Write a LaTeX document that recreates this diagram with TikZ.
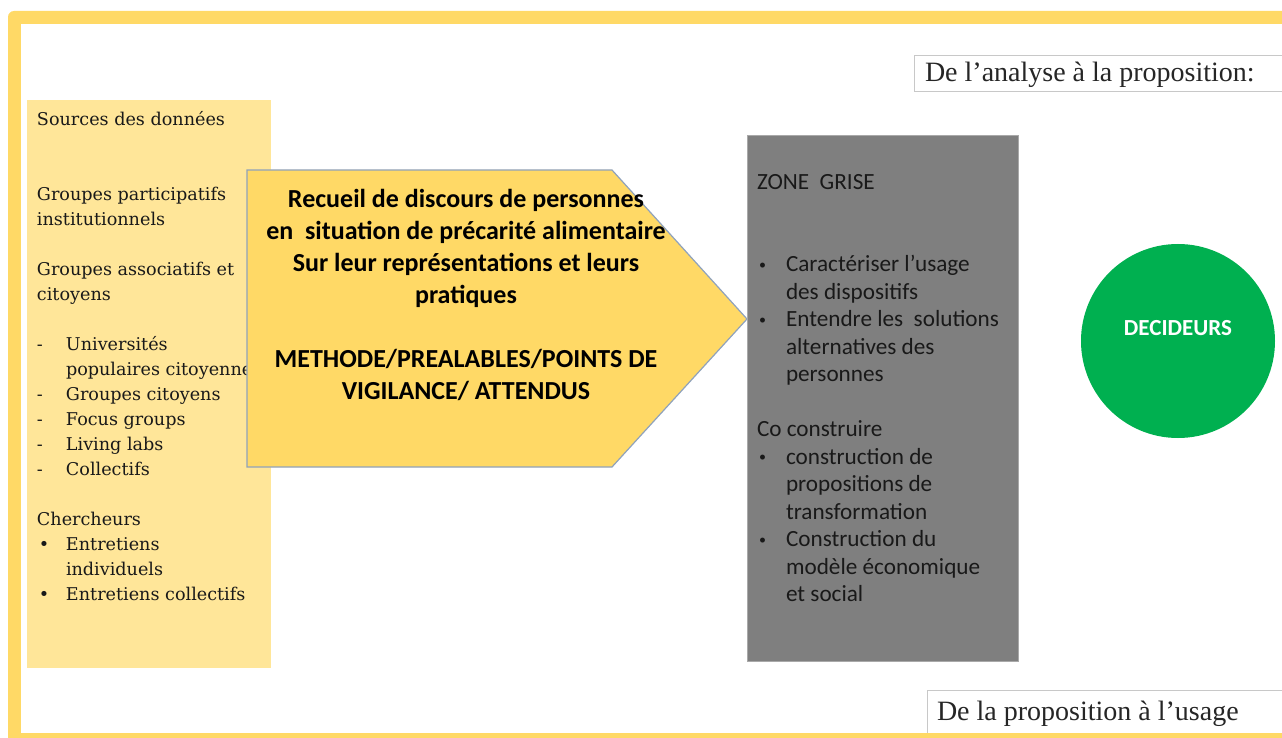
\documentclass[tikz,border=0pt]{standalone}
\usepackage{fontspec}
\setmainfont{Liberation Serif}
\newfontfamily\srcfont{DejaVu Serif}
\newfontfamily\zonefont{Carlito}
\usetikzlibrary{positioning}

\definecolor{frameyellow}{HTML}{FFD966}
\definecolor{srcyellow}{HTML}{FFE699}
\definecolor{arrowyellow}{HTML}{FFD966}
\definecolor{arrowedge}{HTML}{8FA2BC}
\definecolor{zonegray}{HTML}{7F7F7F}
\definecolor{zoneedge}{HTML}{A9A9A9}
\definecolor{decgreen}{HTML}{00B050}
\definecolor{tagedge}{HTML}{C8C8C8}

\newcommand{\itemdash}{\makebox[14.5pt][l]{-}}
\newcommand{\itemdot}{\makebox[14.5pt][l]{\hspace{1pt}•}}
\newcommand{\zonedot}{\makebox[14.5pt][l]{\hspace{1pt}\raisebox{1.2pt}{\fontsize{7}{7}\selectfont •}}}
\newcommand{\itemhang}{\hspace*{14.5pt}}

\begin{document}
\begin{tikzpicture}[x=0.5pt, y=-0.5pt,
	every node/.style={inner sep=0pt, outer sep=0pt},
	tagbox/.style={draw=tagedge, fill=white, anchor=north west, minimum width=190pt},
	tagtext/.style={font=\fontsize{14}{16}\selectfont, text=black!85},
	srcbox/.style={fill=srcyellow, anchor=north west, minimum width=122pt, minimum height=284pt},
	srctext/.style={anchor=north west, align=left, text=black!90, font=\srcfont\fontsize{8.8}{12.5}\selectfont},
	arrowshape/.style={fill=arrowyellow, draw=arrowedge, line width=0.6pt},
	arrowtext/.style={anchor=north, align=center, text=black, font=\zonefont\bfseries\fontsize{13}{16}\selectfont},
	zonebox/.style={fill=zonegray, draw=zoneedge, line width=0.5pt, anchor=north west, minimum width=135.5pt, minimum height=262.5pt},
	zonetext/.style={anchor=north west, align=left, text=black!90, font=\zonefont\fontsize{11.6}{13.75}\selectfont},
	decider/.style={circle, fill=decgreen, minimum size=97pt},
	dectext/.style={text=white, font=\zonefont\bfseries\fontsize{11.5}{14}\selectfont}
]
\useasboundingbox (0,0) rectangle (1282,738);

% frame
\fill[frameyellow, rounded corners=3pt] (8,11) rectangle (1320,760);
\fill[white] (21,24) rectangle (1320,733);

% headings on the right
\node[tagbox, minimum height=18pt] (analyse) at (914,55) {};
\node[tagtext, right=5.5pt of analyse.west, yshift=-1pt] (analysetxt) {De l’analyse à la proposition:};
\node[tagbox, minimum height=21.5pt] (usage) at (927,690) {};
\node[tagtext, right=5pt of usage.west, yshift=-1pt] (usagetxt) {De la proposition à l’usage};
\fill[frameyellow] (21,733) rectangle (1320,760);

% sources
\node[srcbox] (sources) at (27,100) {};
\node[srctext] (srclist) at (37,111) {Sources des données\\[25pt]
Groupes participatifs\\
institutionnels\\[12.5pt]
Groupes associatifs et\\
citoyens\\[12.5pt]
\itemdash Universités\\
\itemhang populaires citoyennes\\
\itemdash Groupes citoyens\\
\itemdash Focus groups\\
\itemdash Living labs\\
\itemdash Collectifs\\[12.5pt]
Chercheurs\\
\itemdot Entretiens\\
\itemhang individuels\\
\itemdot Entretiens collectifs};

% collecte
\draw[arrowshape] (247,170) -- (612,170) -- (747,319) -- (612,467) -- (247,467) -- cycle;
\node[arrowtext] (recueil) at (466,189) {Recueil de discours de personnes\\
en\ \ situation de précarité alimentaire\\
Sur leur représentations et leurs\\
pratiques\\[16pt]
METHODE/PREALABLES/POINTS DE\\
VIGILANCE/ ATTENDUS};

% zone grise
\node[zonebox] (zone) at (747,136) {};
\node[zonetext] (zonelist) at (757,174) {ZONE\ \ GRISE\\[27.5pt]
\zonedot Caractériser l’usage\\
\itemhang des dispositifs\\
\zonedot Entendre les\ \ solutions\\
\itemhang alternatives des\\
\itemhang personnes\\[13.75pt]
Co construire\\
\zonedot construction de\\
\itemhang propositions de\\
\itemhang transformation\\
\zonedot Construction du\\
\itemhang modèle économique\\
\itemhang et social};

% decideurs
\node[decider] (dec) at (1178,341) {};
\node[dectext] (dectxt) at ([yshift=6.5pt]dec.center) {DECIDEURS};
\end{tikzpicture}
\end{document}
